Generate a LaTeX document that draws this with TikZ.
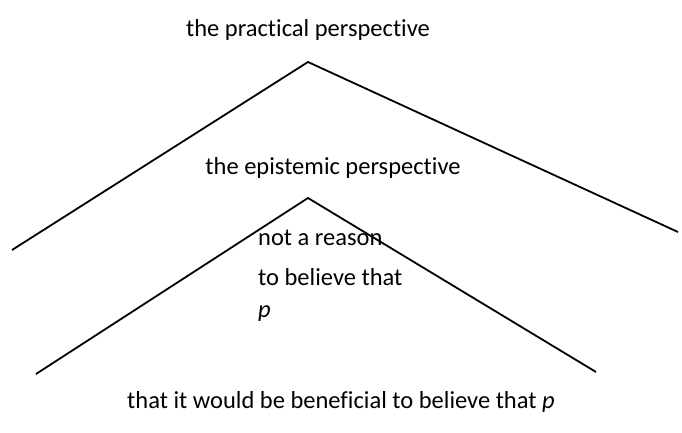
\documentclass[tikz,border=0pt]{standalone}
\usepackage{fontspec}
\setmainfont[Ligatures={NoCommon}]{Carlito}
\begin{document}
\begin{tikzpicture}[x=1pt,y=-1pt,
  lbl/.style={font=\fontsize{24.5}{28}\selectfont, inner sep=0pt},
  roof/.style={line width=1.8pt, line join=miter}]
\useasboundingbox (0,0) rectangle (682,432);
\coordinate (oa) at (308,62);
\coordinate (ol) at (12,250);
\coordinate (or) at (678,232);
\coordinate (ia) at (308,198);
\coordinate (il) at (36,374);
\coordinate (ir) at (596,372);
\draw[roof] (ol) -- (oa) -- (or);
\draw[roof] (il) -- (ia) -- (ir);
\node[lbl] (t1) at (308,30) {the practical perspective};
\node[lbl] (t2) at (333,168) {the epistemic perspective};
\node[lbl, anchor=west] (n1) at (258,238) {not a reason};
\node[lbl, anchor=west] (n2) at (258,277) {to believe that};
\node[lbl, anchor=west] (n3) at (258,314) {\itshape p};
\node[lbl] (b) at (341,402) {that it would be beneficial to believe that \textit{p}};
\end{tikzpicture}
\end{document}
